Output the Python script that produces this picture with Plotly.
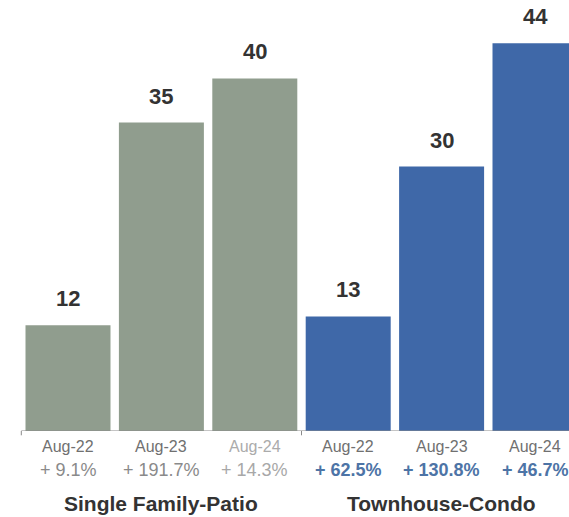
import plotly.graph_objects as go

categories = ["Aug-22", "Aug-23", "Aug-24", "Aug-22", "Aug-23", "Aug-24"]
values = [12, 35, 40, 13, 30, 44]
pct_labels = ["+ 9.1%", "+ 191.7%", "+ 14.3%", "+ 62.5%", "+ 130.8%", "+ 46.7%"]
groups = ["Single Family-Patio", "Townhouse-Condo"]
group_of_bar = [0, 0, 0, 1, 1, 1]

bar_colors = ["#909d8e", "#909d8e", "#909d8e", "#3f68a8", "#3f68a8", "#3f68a8"]
cat_colors = ["#707070", "#707070", "#ababab", "#707070", "#707070", "#707070"]
pct_colors = ["#8a8a8a", "#8a8a8a", "#a8a8a8", "#4d74a6", "#4d74a6", "#4d74a6"]
pct_bold = [False, False, False, True, True, True]

FONT = "Liberation Sans, Arial, Helvetica, sans-serif"
xs = list(range(len(values)))

fig = go.Figure()
fig.add_trace(go.Bar(
    x=xs, y=values, width=0.91,
    marker=dict(color=bar_colors, line=dict(width=0)),
    hoverinfo="skip",
))

ann = []
for i, v in enumerate(values):
    ann.append(dict(x=i, y=v, xref="x", yref="y", text=f"<b>{v}</b>",
                    showarrow=False, yanchor="bottom", yshift=12,
                    font=dict(size=22, color="#333333", family=FONT)))
    ann.append(dict(x=i, y=0, xref="x", yref="paper", text=categories[i],
                    showarrow=False, yanchor="top", yshift=-5,
                    font=dict(size=16, color=cat_colors[i], family=FONT)))
    t = pct_labels[i]
    if pct_bold[i]:
        t = f"<b>{t}</b>"
    ann.append(dict(x=i, y=0, xref="x", yref="paper", text=t,
                    showarrow=False, yanchor="top", yshift=-27,
                    font=dict(size=18, color=pct_colors[i], family=FONT)))

for g, name in enumerate(groups):
    members = [i for i in xs if group_of_bar[i] == g]
    cx = sum(members) / len(members)
    ann.append(dict(x=cx, y=0, xref="x", yref="paper", text=f"<b>{name}</b>",
                    showarrow=False, yanchor="top", yshift=-59,
                    font=dict(size=21, color="#333333", family=FONT)))

shapes = [dict(type="line", xref="x", yref="y", x0=-0.5, x1=len(values) - 0.5,
               y0=0, y1=0, line=dict(color="#8a8a8a", width=1))]
for b in [-0.5, 2.5, 5.5]:
    shapes.append(dict(type="line", xref="x", yref="paper", x0=b, x1=b,
                       y0=0, y1=-0.01, line=dict(color="#8a8a8a", width=1)))

fig.update_layout(
    width=569, height=517,
    margin=dict(l=0, r=0, t=0, b=86),
    paper_bgcolor="white", plot_bgcolor="white",
    showlegend=False,
    xaxis=dict(range=[-0.728, 5.364], showticklabels=False, showgrid=False,
               zeroline=False, showline=False, ticks=""),
    yaxis=dict(range=[0, 48.9], showticklabels=False, showgrid=False,
               zeroline=False, showline=False, ticks=""),
    annotations=ann, shapes=shapes,
)

fig.write_html("out.html")
